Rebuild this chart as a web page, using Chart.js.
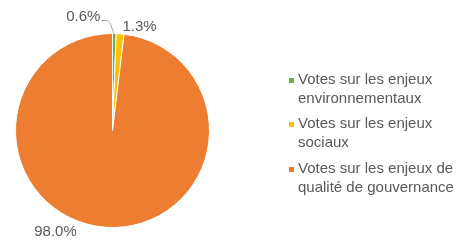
<!DOCTYPE html>
<html lang="fr">
<head>
<meta charset="UTF-8" />
<script src="https://cdn.jsdelivr.net/npm/chart.js@4.4.1/dist/chart.umd.min.js"></script>
<style>
  html, body { margin: 0; padding: 0; background: #fff; }
  #wrap { width: 462px; height: 242px; }
</style>
</head>
<body>
<div id="wrap"><canvas id="myChart" width="462" height="242"></canvas></div>
<script>
  // categories (legend lines)
  const categories = [
    ["Votes sur les enjeux", "environnementaux"],
    ["Votes sur les enjeux", "sociaux"],
    ["Votes sur les enjeux de", "qualité de gouvernance"]
  ];
  const values = [0.6, 1.3, 98.0];
  const valueLabels = ["0.6%", "1.3%", "98.0%"];
  const colors = ["#70AD47", "#FFC000", "#ED7D31"];

  const textColor = "#595959";
  const font = "15px 'Liberation Sans', Arial, sans-serif";

  // data labels + custom legend
  const extras = {
    id: "extras",
    afterDraw(chart) {
      const ctx = chart.ctx;
      const arcs = chart.getDatasetMeta(0).data;
      const cx = arcs[0].x, cy = arcs[0].y, r = arcs[0].outerRadius;
      ctx.save();
      ctx.font = font;
      ctx.fillStyle = textColor;
      ctx.textBaseline = "middle";

      // 0.6% with leader line
      const g = arcs[0];
      const ga = (g.startAngle + g.endAngle) / 2;
      const gx = cx + Math.cos(ga) * r, gy = cy + Math.sin(ga) * r;
      ctx.strokeStyle = "#A6A6A6";
      ctx.lineWidth = 1;
      ctx.beginPath();
      ctx.moveTo(gx - 0.5, gy);
      ctx.lineTo(gx - 4, gy - 10);
      ctx.lineTo(gx - 7, gy - 13);
      ctx.lineTo(gx - 13, gy - 13);
      ctx.stroke();
      ctx.textAlign = "right";
      ctx.fillText(valueLabels[0], gx - 14, gy - 17);

      // 1.3%
      ctx.textAlign = "left";
      ctx.fillText(valueLabels[1], cx + 10, cy - r - 7);

      // 98.0%
      ctx.textAlign = "center";
      ctx.fillText(valueLabels[2], cx - 57, cy + r + 4);

      // legend
      ctx.textAlign = "left";
      const lx = 298, boxX = 289;
      const tops = [80, 124, 169];
      const lh = 19;
      categories.forEach((lines, i) => {
        ctx.fillStyle = colors[i];
        ctx.fillRect(boxX, tops[i] - 2, 5, 5);
        ctx.fillStyle = textColor;
        lines.forEach((ln, j) => ctx.fillText(ln, lx, tops[i] + j * lh));
      });
      ctx.restore();
    }
  };

  new Chart(document.getElementById("myChart"), {
    type: "pie",
    data: {
      labels: categories.map(l => l.join(" ")),
      datasets: [{
        data: values,
        backgroundColor: colors,
        borderColor: "#ffffff",
        borderWidth: 1
      }]
    },
    options: {
      responsive: false,
      animation: false,
      layout: { padding: { top: 33, bottom: 14, left: 15, right: 252 } },
      plugins: {
        legend: { display: false },
        tooltip: { enabled: false }
      }
    },
    plugins: [extras]
  });
</script>
</body>
</html>
